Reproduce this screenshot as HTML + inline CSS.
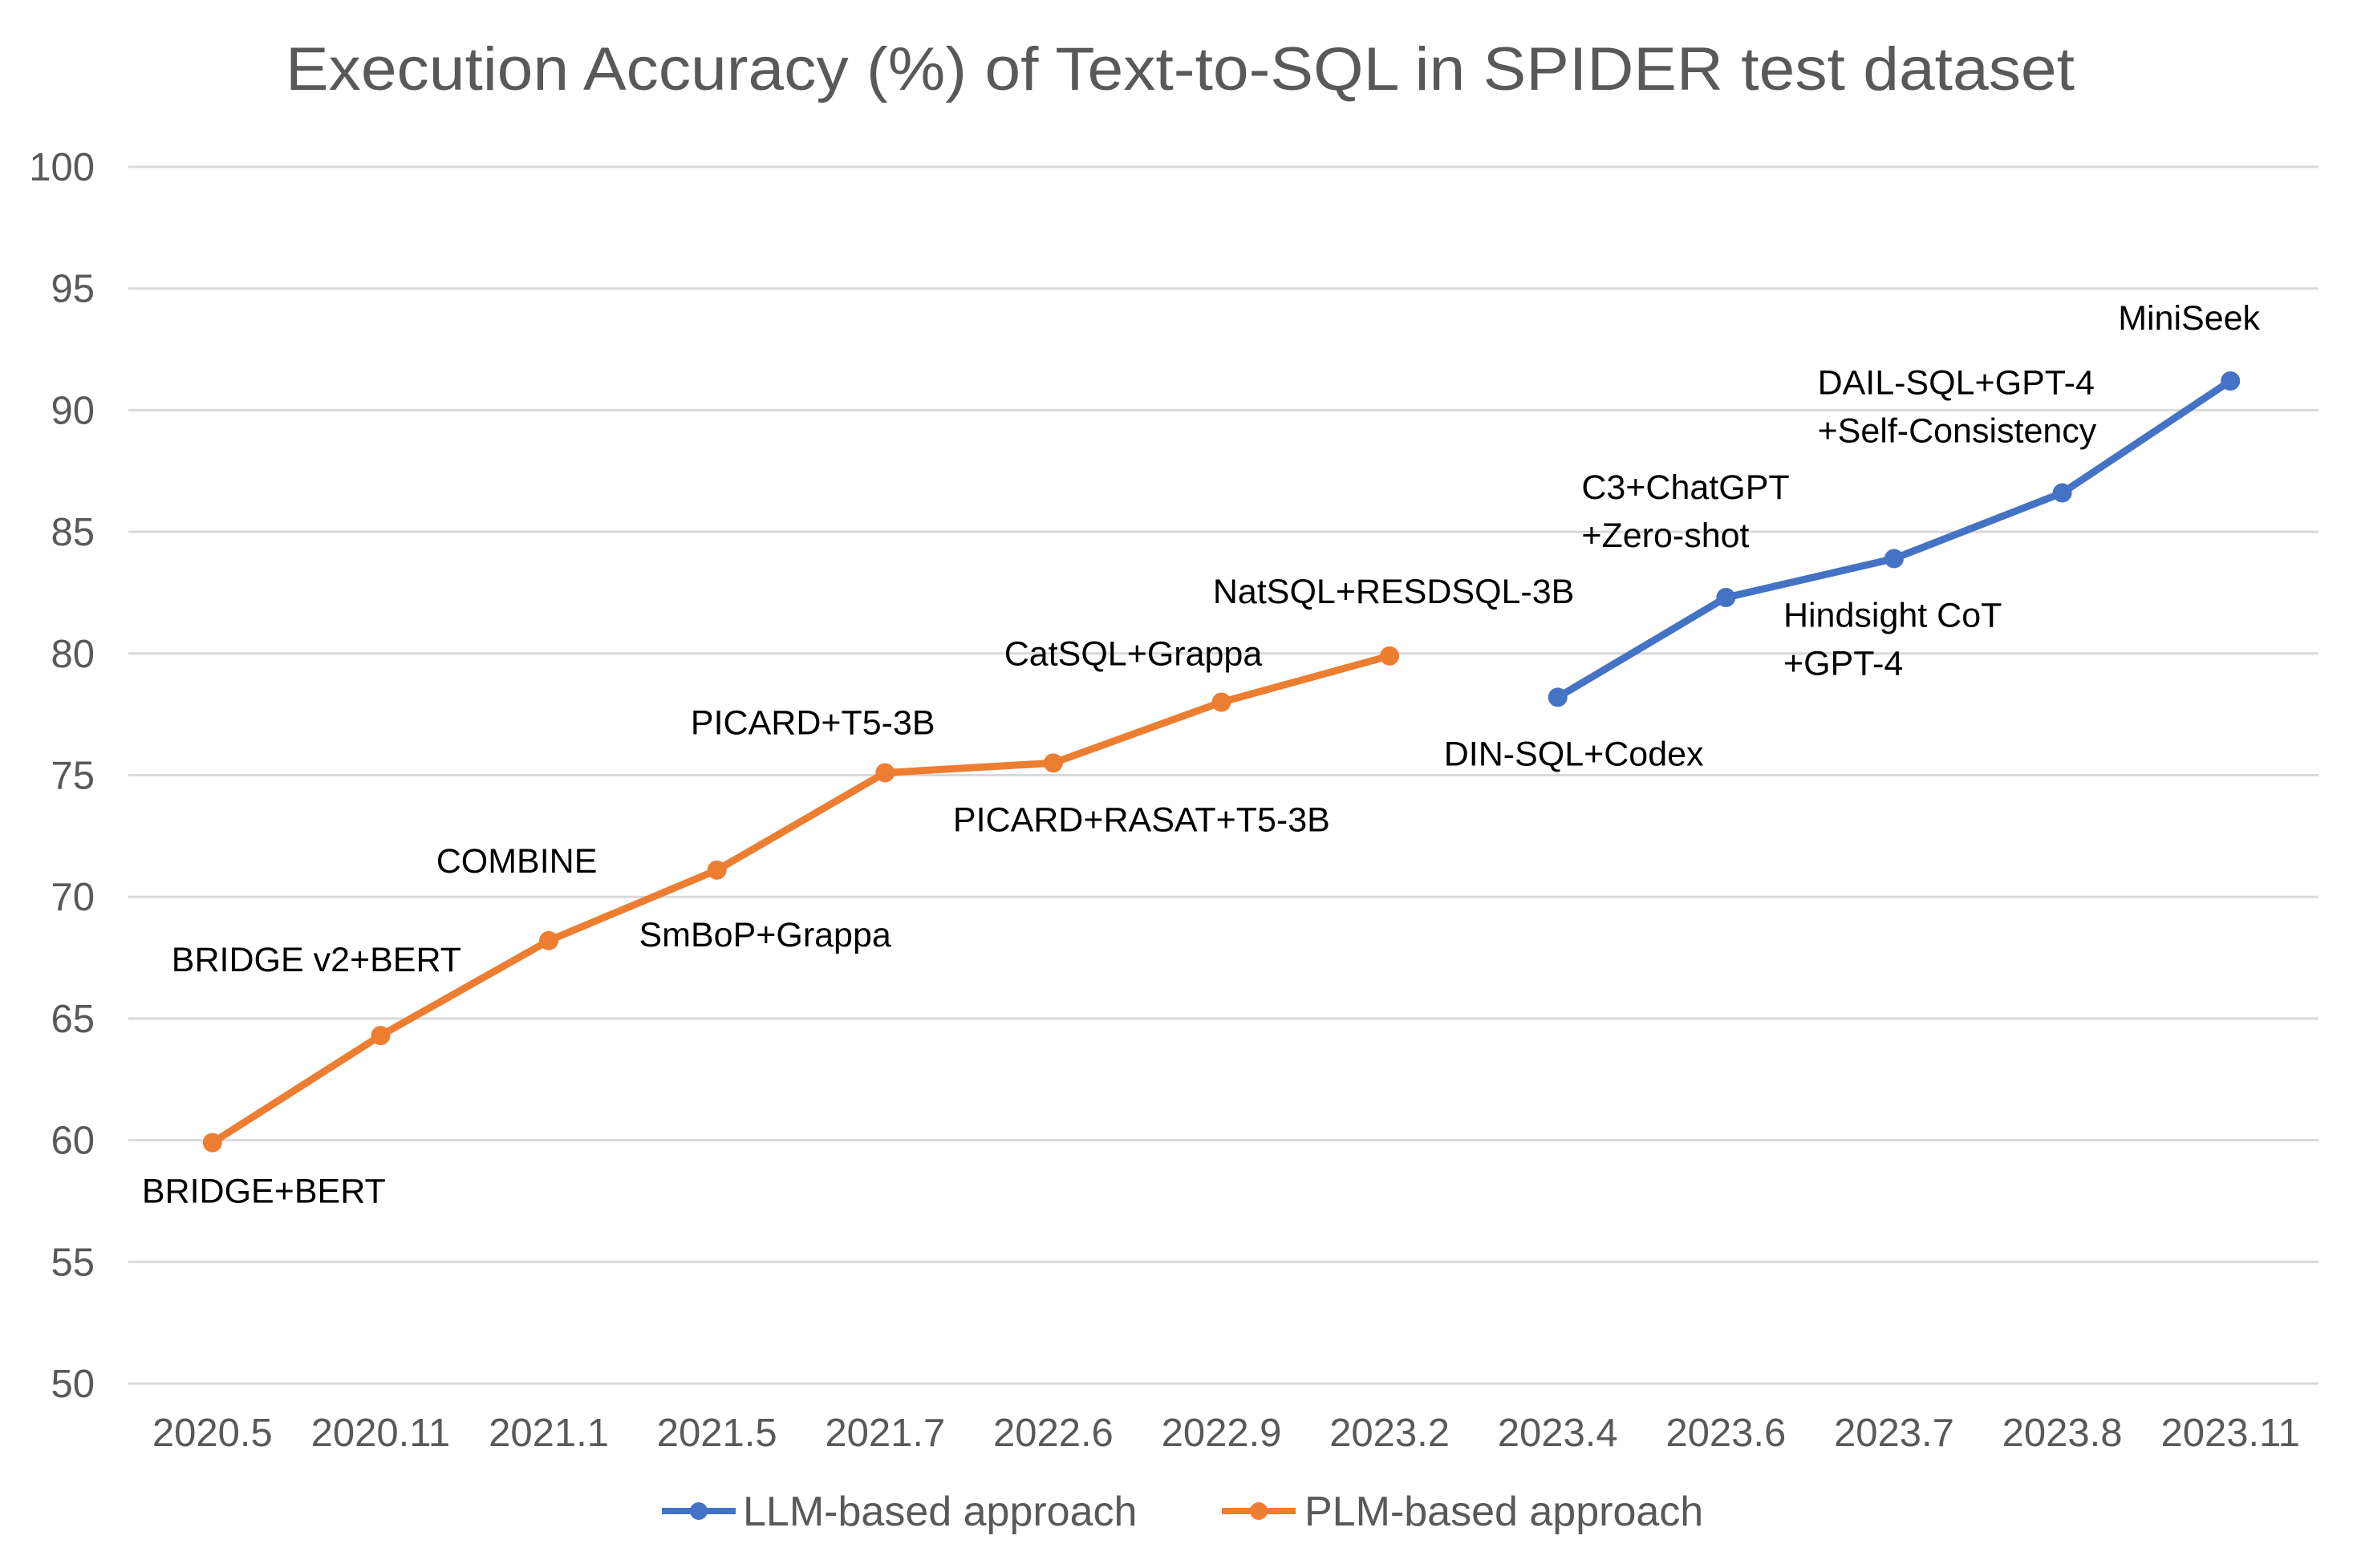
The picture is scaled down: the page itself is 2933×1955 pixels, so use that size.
<!DOCTYPE html>
<html><head><meta charset="utf-8"><style>
html,body{margin:0;padding:0;background:#fff;}
svg{display:block;}
</style></head><body>
<svg id="chart" width="2933" height="1955" viewBox="0 0 2933 1955" xmlns="http://www.w3.org/2000/svg" font-family="'Liberation Sans', 'Noto Sans CJK SC', sans-serif">
<rect width="2933" height="1955" fill="#fff"/>
<text x="1471" y="112" text-anchor="middle" font-size="76" fill="#595959" textLength="2230" lengthAdjust="spacingAndGlyphs">Execution Accuracy (%) of Text-to-SQL in SPIDER test dataset</text>
<g id="grid"></g><g id="yticks"></g><g id="xticks"></g><g id="series"></g><g id="labels"></g>
<g>
  <g>
    <line x1="825" y1="1884" x2="917" y2="1884" stroke="#4472C4" stroke-width="8"/>
    <circle cx="871" cy="1884" r="11" fill="#4472C4"/>
    <text x="926" y="1902" font-size="52" fill="#595959">LLM-based approach</text>
  </g>
  <g>
    <line x1="1523" y1="1884" x2="1615" y2="1884" stroke="#ED7D31" stroke-width="8"/>
    <circle cx="1569" cy="1884" r="11" fill="#ED7D31"/>
    <text x="1626" y="1902" font-size="52" fill="#595959">PLM-based approach</text>
  </g>
</g>
</svg>
<script>
const categories = ["2020.5","2020.11","2021.1","2021.5","2021.7","2022.6","2022.9","2023.2","2023.4","2023.6","2023.7","2023.8","2023.11"];
const plmValues = [59.9,64.3,68.2,71.1,75.1,75.5,78.0,79.9,null,null,null,null,null];
const llmValues = [null,null,null,null,null,null,null,null,78.2,82.3,83.9,86.6,91.2];
const yTicks = [50,55,60,65,70,75,80,85,90,95,100];
const pointLabels = [
 ["BRIDGE+BERT"],["BRIDGE v2+BERT"],["COMBINE"],["SmBoP+Grappa"],["PICARD+T5-3B"],["PICARD+RASAT+T5-3B"],["CatSQL+Grappa"],["NatSQL+RESDSQL-3B"],
 ["DIN-SQL+Codex"],["C3+ChatGPT","+Zero-shot"],["Hindsight CoT","+GPT-4"],["DAIL-SQL+GPT-4","+Self-Consistency"],["MiniSeek"]
];
// label offsets [dx, dy, anchor] relative to point
const labelOffsets = [
 [64,75,"middle"],[-80,-80,"middle"],[-40,-85,"middle"],[60,95,"middle"],[-90,-48,"middle"],[110,85,"middle"],[-110,-46,"middle"],[5,-66,"middle"],
 [-142,85,"start"],[-180,-123,"start"],[-138,85,"start"],[-305,-123,"start"],[-140,-64,"start"]
];
const NS="http://www.w3.org/2000/svg";
const L=160,R=2885,T=208,B=1725,GR=2890;
const x=i=>L+(R-L)/categories.length*(i+0.5);
const y=v=>B-(v-50)/50*(B-T);
function mk(tag,attrs,parent){const e=document.createElementNS(NS,tag);for(const k in attrs)e.setAttribute(k,attrs[k]);parent.appendChild(e);return e;}
const grid=document.getElementById('grid'),yt=document.getElementById('yticks'),xt=document.getElementById('xticks'),ser=document.getElementById('series'),lab=document.getElementById('labels');
yTicks.forEach(t=>{
  const g=mk('line',{x1:L,x2:GR,y1:y(t),y2:y(t),stroke:'#d9d9d9','stroke-width':3},grid);
  
  
  const tx=mk('text',{x:118,y:y(t)+17,'text-anchor':'end','font-size':49,fill:'#595959'},yt);
  tx.textContent=t;
  
  
});
categories.forEach((c,i)=>{
  const tx=mk('text',{x:x(i),y:1803,'text-anchor':'middle','font-size':49,fill:'#595959'},xt);
  tx.textContent=c;
  
  
});
function drawSeries(vals,color,name){
  const pts=[];vals.forEach((v,i)=>{if(v!==null)pts.push([x(i),y(v)]);});
  const pl=mk('polyline',{points:pts.map(p=>p.join(',')).join(' '),fill:'none',stroke:color,'stroke-width':9,'stroke-linejoin':'round'},ser);
  
  
  pts.forEach(p=>{
    const c=mk('circle',{cx:p[0],cy:p[1],r:12,fill:color},ser);
    
    
  });
}
drawSeries(plmValues,'#ED7D31','plm-series');
drawSeries(llmValues,'#4472C4','llm-series');
pointLabels.forEach((lines,i)=>{
  const v=plmValues[i]!==null?plmValues[i]:llmValues[i];
  const o=labelOffsets[i];
  const tx=mk('text',{x:x(i)+o[0],y:y(v)+o[1],'text-anchor':o[2],'font-size':43,fill:'#000'},lab);
  
  
  lines.forEach((s,k)=>{const ts=mk('tspan',{x:x(i)+o[0],dy:k?60:0},tx);ts.textContent=s;});
});
</script>
</body></html>
